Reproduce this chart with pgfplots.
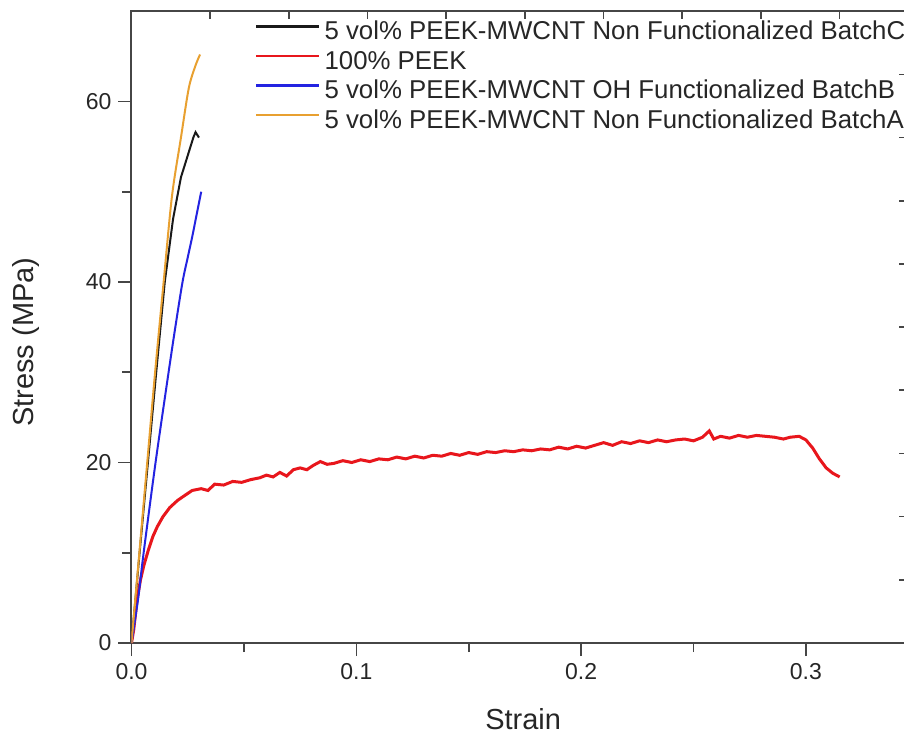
\documentclass[border=0pt]{standalone}
\usepackage{fontspec}
\setmainfont{Liberation Sans}
\usepackage{pgfplots}
\pgfplotsset{compat=1.18}
\definecolor{cBlack}{RGB}{25,25,25}
\definecolor{cRed}{RGB}{232,22,28}
\definecolor{cBlue}{RGB}{35,35,225}
\definecolor{cOrange}{RGB}{232,160,48}
\definecolor{axisgrey}{RGB}{70,70,70}

\begin{document}
\begin{tikzpicture}
\begin{axis}[
  scale only axis,
  width=387.8pt, height=315.9pt,
  xmin=0, xmax=0.345,
  ymin=0, ymax=70,
  xtick={0,0.1,0.2,0.3},
  xticklabels={0.0,0.1,0.2,0.3},
  minor xtick={0.05,0.15,0.25},
  ytick={0,20,40,60},
  minor ytick={10,30,50},
  xtick pos=left, ytick pos=left,
  tick align=outside,
  major tick length=6.5pt,
  minor tick length=4.5pt,
  axis line style={axisgrey, line width=1pt},
  tick style={axisgrey, line width=0.8pt},
  /pgf/number format/assume math mode=true,
  tick label style={font=\fontsize{11.5}{13}\selectfont, text=black!85},
  xlabel={Strain},
  ylabel={Stress (MPa)},
  label style={font=\fontsize{14.5}{17}\selectfont, text=black!85},
  xlabel style={at={(rel axis cs:0.505,0)}, anchor=center, yshift=-38pt},
  % the label is rotated, so its yshift moves it to the left
  ylabel style={at={(rel axis cs:0,0.476)}, anchor=center, yshift=52.75pt},
  legend cell align=left,
  legend style={
    at={(rel axis cs:0.1592,0.9858)}, anchor=north west,
    draw=none, fill=none, inner sep=0pt,
    font=\fontsize{12.9}{15}\selectfont,
    column sep=2pt, row sep=0pt,
    nodes={inner sep=0pt, text height=9.6pt, text depth=5.15pt, text=black!85},
  },
  legend image code/.code={\draw[#1, line width=1.1pt] (0pt,4.4pt) -- (31.5pt,4.4pt);},
]

\addplot[cBlack, line width=1pt] coordinates {
  (0,0) (0.0036,10) (0.0073,20) (0.011,30) (0.0148,40) (0.0185,47)
  (0.0204,49.5) (0.022,51.6) (0.025,54) (0.0275,56) (0.0285,56.6)
  (0.0295,56.2) (0.030,56)
};
\addlegendentry{5 vol\% PEEK-MWCNT Non Functionalized BatchC}

\addplot[cRed, line width=1.5pt] coordinates {
  (0,0) (0.001,1.5) (0.0025,4.8) (0.004,7) (0.0055,8.6) (0.0075,10.3)
  (0.0095,11.8) (0.0115,12.9) (0.014,14.0) (0.017,15.0) (0.0205,15.8)
  (0.024,16.4) (0.027,16.9) (0.031,17.1) (0.034,16.9) (0.037,17.6)
  (0.041,17.5) (0.045,17.9) (0.049,17.8) (0.053,18.1) (0.057,18.3)
  (0.060,18.6) (0.063,18.4) (0.066,18.9) (0.069,18.5) (0.072,19.2)
  (0.075,19.4) (0.078,19.2) (0.081,19.7) (0.084,20.1) (0.087,19.8)
  (0.090,19.9) (0.094,20.2) (0.098,20.0) (0.102,20.3) (0.106,20.1)
  (0.110,20.4) (0.114,20.3) (0.118,20.6) (0.122,20.4) (0.126,20.7)
  (0.130,20.5) (0.134,20.8) (0.138,20.7) (0.142,21.0) (0.146,20.8)
  (0.150,21.1) (0.154,20.9) (0.158,21.2) (0.162,21.1) (0.166,21.3)
  (0.170,21.2) (0.174,21.4) (0.178,21.3) (0.182,21.5) (0.186,21.4)
  (0.190,21.7) (0.194,21.5) (0.198,21.8) (0.202,21.6) (0.206,21.9)
  (0.210,22.2) (0.214,21.9) (0.218,22.3) (0.222,22.1) (0.226,22.4)
  (0.230,22.2) (0.234,22.5) (0.238,22.3) (0.242,22.5) (0.246,22.6)
  (0.250,22.4) (0.254,22.8) (0.257,23.5) (0.259,22.6) (0.262,22.9)
  (0.266,22.7) (0.270,23.0) (0.274,22.8) (0.278,23.0) (0.282,22.9)
  (0.286,22.8) (0.290,22.6) (0.293,22.8) (0.297,22.9) (0.300,22.5)
  (0.303,21.6) (0.306,20.4) (0.309,19.4) (0.312,18.8) (0.315,18.4)
};
\addlegendentry{100\% PEEK}

\addplot[cBlue, line width=1pt, smooth] coordinates {
  (0,0) (0.003,5) (0.0054,10) (0.0107,20) (0.0165,30) (0.0195,35)
  (0.0227,40) (0.025,42.7) (0.027,45) (0.029,47.5) (0.031,50)
};
\addlegendentry{5 vol\% PEEK-MWCNT OH Functionalized BatchB}

\addplot[cOrange, line width=1pt, smooth] coordinates {
  (0,0) (0.0035,10) (0.007,20) (0.0105,30) (0.0143,40) (0.018,49.5)
  (0.022,56) (0.0255,61.5) (0.0285,64) (0.0305,65.2)
};
\addlegendentry{5 vol\% PEEK-MWCNT Non Functionalized BatchA}
\end{axis}

% mirrored ticks on top and right, pointing inward
\begin{axis}[
  scale only axis,
  width=387.8pt, height=315.9pt,
  xmin=0, xmax=0.345,
  ymin=0, ymax=70,
  axis line style={draw=none},
  xtick pos=right, ytick pos=right,
  tick align=inside,
  xtick={0.035,0.07,0.105,0.14,0.175,0.21,0.245,0.28,0.315},
  ytick={7,14,21,28,35,42,49,56,63},
  xticklabel=\empty, yticklabel=\empty,
  major tick length=4pt,
  tick style={axisgrey, line width=0.8pt},
]
\end{axis}

\pgfresetboundingbox
\path[use as bounding box] (-65.75pt,-46pt) rectangle (386.25pt,321.5pt);
\end{tikzpicture}
\end{document}
